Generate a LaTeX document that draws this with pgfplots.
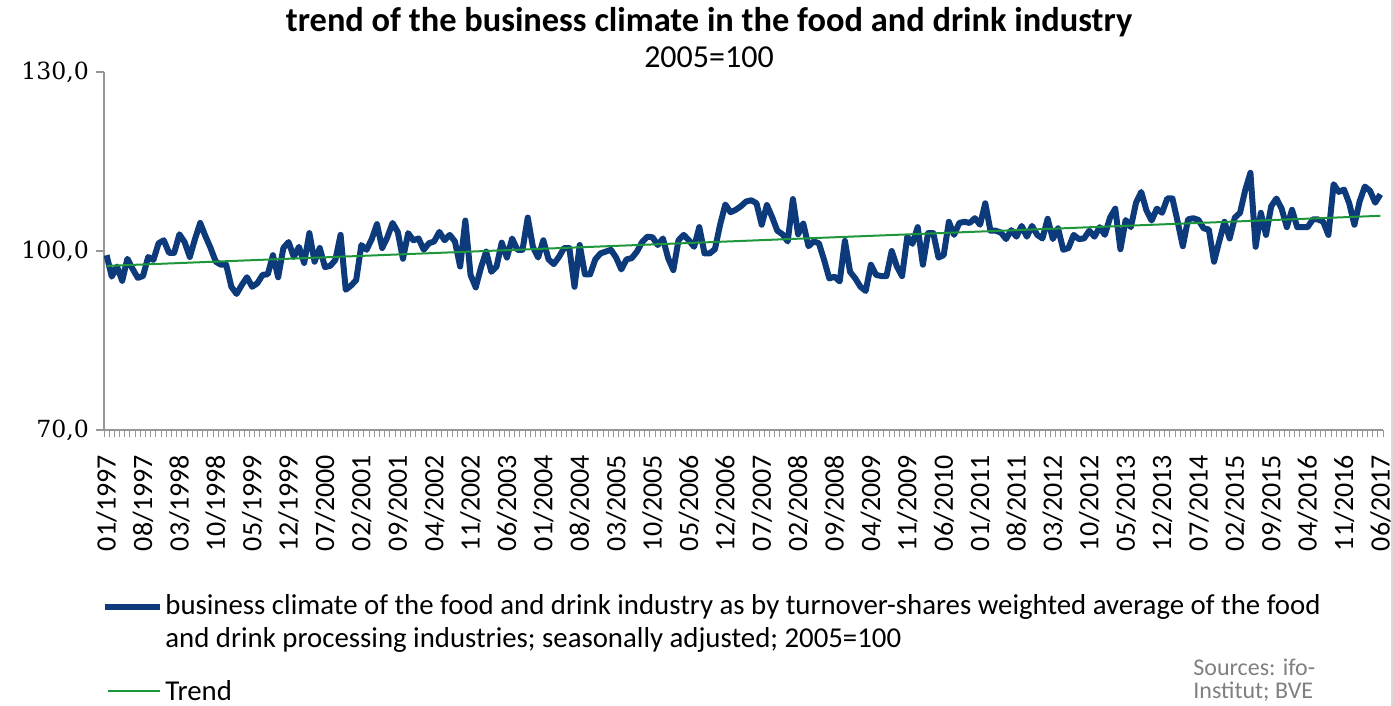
\documentclass[border=0pt]{standalone}
\usepackage{pgfplots}
\pgfplotsset{compat=1.18}
\usepackage{fontspec}
\setmainfont{Carlito}
\newfontfamily\numfont{DejaVu Serif}
\definecolor{climate}{RGB}{12,58,122}
\definecolor{trend}{RGB}{30,150,60}
\definecolor{axisgray}{RGB}{150,150,150}
\begin{document}
\begin{tikzpicture}[x=0.5pt,y=0.5pt]
\path[use as bounding box] (0,0) rectangle (1393,706);
\draw[gray!30, line width=1pt] (1391.5,0) -- (1391.5,706);
\begin{axis}[
  at={(52pt,138pt)}, anchor=south west,
  width=639.5pt, height=179pt, scale only axis,
  xmin=-0.5, xmax=245.5, ymin=70, ymax=130,
  axis x line*=bottom, axis y line*=left,
  axis line style={axisgray, line width=0.8pt, -},
  xtick={0,7,...,245},
  xticklabels={01/1997,08/1997,03/1998,10/1998,05/1999,12/1999,07/2000,02/2001,09/2001,04/2002,11/2002,06/2003,01/2004,08/2004,03/2005,10/2005,05/2006,12/2006,07/2007,02/2008,09/2008,04/2009,11/2009,06/2010,01/2011,08/2011,03/2012,10/2012,05/2013,12/2013,07/2014,02/2015,09/2015,04/2016,11/2016,06/2017},
  major x tick style={draw=none},
  minor xtick={-0.5,0.5,...,245.5},
  minor tick length=3.5pt,
  minor x tick style={axisgray, line width=0.5pt},
  xtick align=outside,
  xticklabel shift=5pt,
  xticklabel style={rotate=90, anchor=east, font=\fontsize{14}{14}\selectfont},
  ytick={70,100,130},
  ytick align=outside,
  major tick length=4pt,
  y tick style={axisgray, line width=0.8pt},
  yticklabel style={font=\numfont\fontsize{11.8}{12}\selectfont},
  /pgf/number format/.cd, fixed, fixed zerofill, precision=1, use comma, assume math mode=true,
]
\addplot[climate, line width=3pt, line join=round] coordinates {
(0,99.3) (1,95.7) (2,97.4) (3,95.0) (4,98.7) (5,97.0) (6,95.5) (7,95.8) (8,99.0) (9,98.5)
(10,101.3) (11,101.8) (12,99.7) (13,99.7) (14,102.8) (15,101.5) (16,99.0) (17,102.0) (18,104.7) (19,102.5)
(20,100.5) (21,98.2) (22,97.7) (23,97.7) (24,94.0) (25,92.8) (26,94.3) (27,95.6) (28,94.0) (29,94.6)
(30,96.0) (31,96.1) (32,99.3) (33,95.6) (34,100.5) (35,101.5) (36,99.0) (37,100.7) (38,98.0) (39,103.0)
(40,98.2) (41,100.5) (42,97.3) (43,97.5) (44,98.5) (45,102.7) (46,93.5) (47,94.2) (48,95.1) (49,101.0)
(50,100.2) (51,102.0) (52,104.5) (53,100.5) (54,102.3) (55,104.7) (56,103.2) (57,98.7) (58,103.0) (59,101.8)
(60,102.1) (61,100.2) (62,101.3) (63,101.6) (64,103.2) (65,101.8) (66,102.7) (67,101.6) (68,97.4) (69,105.1)
(70,96.0) (71,93.9) (72,97.2) (73,99.9) (74,96.5) (75,97.4) (76,101.4) (77,98.9) (78,102.1) (79,100.2)
(80,100.2) (81,105.6) (82,100.7) (83,98.9) (84,101.8) (85,98.6) (86,97.8) (87,99.0) (88,100.5) (89,100.5)
(90,94.0) (91,101.0) (92,96.1) (93,96.1) (94,98.6) (95,99.6) (96,99.9) (97,100.2) (98,98.9) (99,96.9)
(100,98.6) (101,98.8) (102,99.9) (103,101.5) (104,102.4) (105,102.3) (106,101.0) (107,102.1) (108,98.8) (109,96.8)
(110,101.8) (111,102.7) (112,101.8) (113,100.7) (114,104.0) (115,99.6) (116,99.6) (117,100.3) (118,104.4) (119,107.8)
(120,106.5) (121,106.9) (122,107.5) (123,108.3) (124,108.5) (125,108.0) (126,104.4) (127,107.7) (128,105.7) (129,103.4)
(130,102.8) (131,101.6) (132,108.7) (133,102.8) (134,104.6) (135,100.8) (136,101.6) (137,101.3) (138,98.5) (139,95.4)
(140,95.7) (141,94.9) (142,101.7) (143,96.5) (144,95.4) (145,94.0) (146,93.3) (147,97.7) (148,96.0) (149,95.8)
(150,95.8) (151,100.0) (152,97.4) (153,95.8) (154,102.4) (155,101.2) (156,104.0) (157,97.7) (158,103.0) (159,103.0)
(160,98.9) (161,99.3) (162,104.9) (163,102.7) (164,104.7) (165,104.9) (166,104.7) (167,105.5) (168,104.4) (169,108.0)
(170,103.4) (171,103.4) (172,103.1) (173,102.0) (174,103.5) (175,102.4) (176,104.2) (177,102.4) (178,104.2) (179,102.7)
(180,102.1) (181,105.4) (182,102.0) (183,103.8) (184,100.2) (185,100.5) (186,102.7) (187,102.0) (188,102.1) (189,103.4)
(190,102.4) (191,104.0) (192,102.7) (193,105.6) (194,107.1) (195,100.3) (196,105.2) (197,104.0) (198,108.1) (199,109.9)
(200,106.8) (201,105.1) (202,107.1) (203,106.4) (204,108.8) (205,108.8) (206,104.9) (207,100.8) (208,105.3) (209,105.5)
(210,105.2) (211,103.8) (212,103.6) (213,98.2) (214,101.6) (215,104.9) (216,102.1) (217,105.6) (218,106.4) (219,110.2)
(220,113.1) (221,100.7) (222,106.4) (223,102.7) (224,107.5) (225,108.8) (226,107.1) (227,104.0) (228,106.9) (229,104.0)
(230,104.0) (231,104.0) (232,105.3) (233,105.3) (234,104.9) (235,102.7) (236,111.2) (237,109.9) (238,110.3) (239,108.0)
(240,104.4) (241,108.3) (242,110.8) (243,110.1) (244,108.1) (245,109.5)
};
% linear trend
\addplot[trend, line width=1pt] coordinates {(0,97.5) (245,105.9)};
\end{axis}
% title
\node[font=\bfseries\fontsize{17.2}{17}\selectfont] at (709,684) {trend of the business climate in the food and drink industry};
\node[font=\fontsize{16}{16}\selectfont] at (709,649) {2005=100};
% legend
\draw[climate, line width=3pt] (105,99) -- (160,99);
\node[anchor=west, inner sep=0pt, font=\fontsize{14.4}{14}\selectfont] at (165,99) {business climate of the food and drink industry as by turnover-shares weighted average of the food};
\node[anchor=west, inner sep=0pt, font=\fontsize{14.4}{14}\selectfont] at (165,66) {and drink processing industries; seasonally adjusted; 2005=100};
\draw[trend, line width=1pt] (108,15) -- (160,15);
\node[anchor=west, inner sep=0pt, font=\fontsize{14.4}{14}\selectfont] at (165,15) {Trend};
% sources
\node[anchor=west, inner sep=0pt, text=gray, font=\fontsize{12}{12}\selectfont] at (1193,39) {Sources: ifo-};
\node[anchor=west, inner sep=0pt, text=gray, font=\fontsize{12}{12}\selectfont] at (1193,14) {Institut; BVE};
\end{tikzpicture}
\end{document}
